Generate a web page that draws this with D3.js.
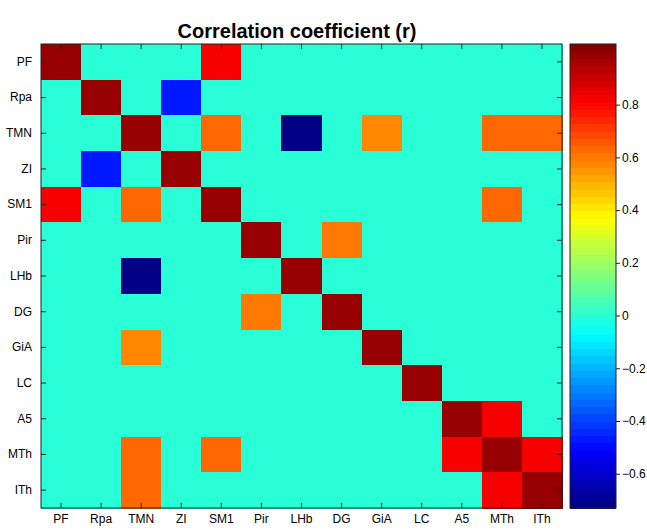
<!DOCTYPE html>
<html>
<head>
<meta charset="utf-8">
<script src="https://cdn.jsdelivr.net/npm/d3@7/dist/d3.min.js"></script>
<style>
  body { margin: 0; background: #fff; }
  text { font-family: "Liberation Sans", Arial, sans-serif; fill: #000; }
</style>
</head>
<body>
<div id="chart"></div>
<script>
// region names (rows and columns are the same)
var labels = ["PF", "Rpa", "TMN", "ZI", "SM1", "Pir", "LHb", "DG", "GiA", "LC", "A5", "MTh", "ITh"];

// correlation matrix, one row per region
var r = [
  [1,    0,     0,    0,     0.81, 0,    0,     0,    0,    0, 0,    0,    0   ],
  [0,    1,     0,   -0.47,  0,    0,    0,     0,    0,    0, 0,    0,    0   ],
  [0,    0,     1,    0,     0.63, 0,   -0.71,  0,    0.57, 0, 0,    0.63, 0.63],
  [0,   -0.47,  0,    1,     0,    0,    0,     0,    0,    0, 0,    0,    0   ],
  [0.81, 0,     0.63, 0,     1,    0,    0,     0,    0,    0, 0,    0.63, 0   ],
  [0,    0,     0,    0,     0,    1,    0,     0.6,  0,    0, 0,    0,    0   ],
  [0,    0,    -0.71, 0,     0,    0,    1,     0,    0,    0, 0,    0,    0   ],
  [0,    0,     0,    0,     0,    0.6,  0,     1,    0,    0, 0,    0,    0   ],
  [0,    0,     0.57, 0,     0,    0,    0,     0,    1,    0, 0,    0,    0   ],
  [0,    0,     0,    0,     0,    0,    0,     0,    0,    1, 0,    0,    0   ],
  [0,    0,     0,    0,     0,    0,    0,     0,    0,    0, 1,    0.81, 0   ],
  [0,    0,     0.63, 0,     0.63, 0,    0,     0,    0,    0, 0.81, 1,    0.81],
  [0,    0,     0.63, 0,     0,    0,    0,     0,    0,    0, 0,    0.81, 1   ]
];

var colorRange = [-0.73, 1.03];
var colorTicks = [-0.6, -0.4, -0.2, 0, 0.2, 0.4, 0.6, 0.8];

var width = 647, height = 530;
var plot = {left: 41, right: 562, top: 44, bottom: 508};
var bar = {left: 570, right: 616};

// matlab style jet, 64 steps
function jet(t) {
  var c = function(v) { return Math.round(255 * Math.max(0, Math.min(1, v))); };
  return d3.rgb(c(1.5 - Math.abs(4 * t - 3)), c(1.5 - Math.abs(4 * t - 2)), c(1.5 - Math.abs(4 * t - 1))).toString();
}
var jetColors = d3.range(64).map(function(i) { return jet((i + 0.5) / 64); });
var color = d3.scaleQuantize().domain(colorRange).range(jetColors);

var svg = d3.select('#chart').append('svg')
  .attr('width', width)
  .attr('height', height);

var x = d3.scaleBand().domain(labels).range([plot.left, plot.right]);
var y = d3.scaleBand().domain(labels).range([plot.top, plot.bottom]);

// cells
var cells = [];
r.forEach(function(row, i) {
  row.forEach(function(v, j) { cells.push({row: labels[i], col: labels[j], value: v}); });
});

svg.append('g').selectAll('rect')
  .data(cells)
  .enter()
  .append('rect')
  .attr('x', function(d) { return x(d.col); })
  .attr('y', function(d) { return y(d.row); })
  .attr('width', x.bandwidth() + 0.5)
  .attr('height', y.bandwidth() + 0.5)
  .attr('fill', function(d) { return color(d.value); })
  .attr('shape-rendering', 'crispEdges');

// axes, matlab ticks point inward
var tickLen = 5;
var xBottom = d3.axisBottom(x).tickSizeInner(-tickLen).tickSizeOuter(0).tickPadding(6);
var xTop = d3.axisTop(x).tickSizeInner(-tickLen).tickSizeOuter(0).tickFormat('');
var yLeft = d3.axisLeft(y).tickSizeInner(-tickLen).tickSizeOuter(0).tickPadding(9);
var yRight = d3.axisRight(y).tickSizeInner(-tickLen).tickSizeOuter(0).tickFormat('');

svg.append('g').attr('transform', 'translate(0,' + plot.bottom + ')').call(xBottom);
svg.append('g').attr('transform', 'translate(0,' + plot.top + ')').call(xTop);
svg.append('g').attr('transform', 'translate(' + plot.left + ',0)').call(yLeft);
svg.append('g').attr('transform', 'translate(' + plot.right + ',0)').call(yRight);

svg.selectAll('.domain').remove();
svg.selectAll('.tick line').attr('stroke', '#222');
svg.selectAll('.tick text').attr('font-size', 12).attr('font-family', '"Liberation Sans", Arial, sans-serif');

svg.append('rect')
  .attr('x', plot.left).attr('y', plot.top)
  .attr('width', plot.right - plot.left).attr('height', plot.bottom - plot.top)
  .attr('fill', 'none').attr('stroke', '#222').attr('stroke-width', 1);

// title
svg.append('text')
  .attr('x', 297)
  .attr('y', 38)
  .attr('text-anchor', 'middle')
  .attr('font-size', 20)
  .attr('font-weight', 'bold')
  .text('Correlation coefficient (r)');

// colorbar
var cy = d3.scaleLinear().domain(colorRange).range([plot.bottom, plot.top]);
var step = (colorRange[1] - colorRange[0]) / 64;
svg.append('g').selectAll('rect')
  .data(jetColors)
  .enter()
  .append('rect')
  .attr('x', bar.left)
  .attr('width', bar.right - bar.left)
  .attr('y', function(d, i) { return cy(colorRange[0] + (i + 1) * step); })
  .attr('height', function(d, i) { return cy(colorRange[0] + i * step) - cy(colorRange[0] + (i + 1) * step) + 0.5; })
  .attr('fill', function(d) { return d; })
  .attr('shape-rendering', 'crispEdges');

var cAxis = d3.axisRight(cy).tickValues(colorTicks).tickSizeInner(4).tickSizeOuter(0).tickPadding(2)
  .tickFormat(function(d) { return d === 0 ? '0' : d3.format('.1f')(d); });
svg.append('g').attr('transform', 'translate(' + bar.right + ',0)').call(cAxis)
  .call(function(g) { g.select('.domain').remove(); })
  .call(function(g) { g.selectAll('line').attr('stroke', '#222'); })
  .call(function(g) { g.selectAll('text').attr('font-size', 12); });

svg.append('rect')
  .attr('x', bar.left).attr('y', plot.top)
  .attr('width', bar.right - bar.left).attr('height', plot.bottom - plot.top)
  .attr('fill', 'none').attr('stroke', '#222').attr('stroke-width', 1);
</script>
</body>
</html>
